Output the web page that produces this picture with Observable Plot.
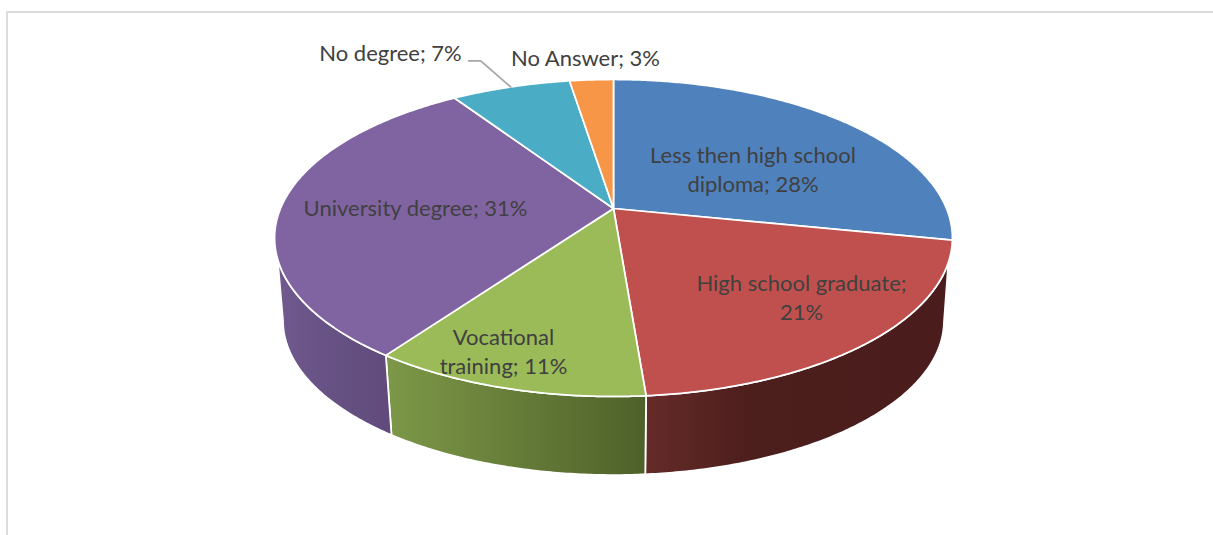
<!DOCTYPE html>
<html>
<head>
<meta charset="utf-8">
<script src="https://cdn.jsdelivr.net/npm/d3@7"></script>
<script src="https://cdn.jsdelivr.net/npm/@observablehq/plot@0.6"></script>
<style>
html,body{margin:0;padding:0;background:#fff;width:1213px;height:535px;overflow:hidden}
#frame{position:absolute;left:6px;top:11px;width:1207px;height:524px;box-sizing:border-box;border-top:2px solid #dcdcdc;border-left:2px solid #dcdcdc}
#chart{position:absolute;left:0;top:0}
svg{display:block}
</style>
</head>
<body>
<div id="frame"></div>
<div id="chart"></div>
<script>
// Data
const categories = ["Less then high school diploma","High school graduate","Vocational training","University degree","No degree","No Answer"];
const shares = [28.2,20.53,11.12,30.85,6.8,2.5];
const labels = ["Less then high school\ndiploma; 28%","High school graduate;\n21%","Vocational\ntraining; 11%","University degree; 31%","No degree; 7%","No Answer; 3%"];
const colors = ["#4f81bd","#c0504d","#9bbb59","#8064a2","#4bacc6","#f79646"];

// Perspective disc geometry (chart units = page px)
const top_ = {cx:613, cy:208, a:333, b:153};
const bottom_ = {cx:613, cy:291.5, a:324.7, b:149};
const k = -0.186;
const project = (g, deg) => {
  const t = deg*Math.PI/180, u = Math.sin(t), v = -Math.cos(t), d = 1+k*v;
  return {x:g.cx+g.a*u/d, y:g.cy+g.b*v/d};
};
const arc = (g, a0, a1) => {
  const n = Math.max(2, Math.ceil(Math.abs(a1-a0))*2), out = [];
  for (let i=0;i<=n;i++) out.push(project(g, a0+(a1-a0)*i/n));
  return out;
};

// Slice angles
const total = d3.sum(shares);
let acc = 0;
const slices = categories.map((category,i)=>{
  const a0 = acc/total*360; acc += shares[i]; const a1 = acc/total*360;
  return {category,a0,a1,mid:(a0+a1)/2};
});

// Top faces
const topPts = slices.flatMap(s=>{
  const c = {x:top_.cx,y:top_.cy};
  return [c,...arc(top_,s.a0,s.a1),c].map(p=>({...p,category:s.category}));
});

// Side walls: the rim is visible between these angles
const rimFrom = 109.3, rimTo = 251.8, silFrom = 100.7, silTo = 259.3;
const wall = (s)=>{
  const t0 = Math.max(s.a0,rimFrom), t1 = Math.min(s.a1,rimTo);
  const b0 = Math.max(s.a0,silFrom), b1 = Math.min(s.a1,silTo);
  const pts = [...arc(top_,t0,t1),...arc(bottom_,b1,b0)];
  pts.push(pts[0]);
  return pts;
};
const wallInfo = [
  {i:1,id:"gRed",stops:[["0%","#652b29"],["35%","#4c1e1c"],["100%","#4a1d1c"]]},
  {i:2,id:"gGreen",stops:[["0%","#7d9848"],["100%","#4e6129"]]},
  {i:3,id:"gPurple",stops:[["0%","#6f598d"],["100%","#5f4a7b"]]}
];
const defs = ()=>{
  const ns="http://www.w3.org/2000/svg";
  const d=document.createElementNS(ns,"defs");
  for(const w of wallInfo){
    const g=document.createElementNS(ns,"linearGradient");
    g.setAttribute("id",w.id);
    for(const [o,c] of w.stops){
      const st=document.createElementNS(ns,"stop");
      st.setAttribute("offset",o);st.setAttribute("stop-color",c);g.appendChild(st);
    }
    d.appendChild(g);
  }
  return d;
};

// Text placement
const labelAt = [[752.5,168],[801,296],[503,349.5],[415,206.5],[390,51.5],[585,56]];
const labelData = labels.map((text,i)=>({text,x:labelAt[i][0],y:labelAt[i][1]}));

// Leader from the No degree label to its slice rim
const rimPt = project(top_, slices[4].mid);
const leader = [{x:rimPt.x-42,y:rimPt.y-26},{x:rimPt.x-30,y:rimPt.y-26},rimPt];

const plot = Plot.plot({
  width:1213,height:535,margin:0,
  style:{background:"transparent"},
  x:{domain:[0,1213],range:[0,1213],axis:null},
  y:{domain:[0,535],range:[0,535],axis:null},
  color:{domain:categories,range:colors},
  marks:[
    defs,
    ...wallInfo.map(w=>Plot.line(wall(slices[w.i]),{x:"x",y:"y",fill:`url(#${w.id})`,stroke:"white",strokeWidth:1.75})),
    Plot.line(topPts,{x:"x",y:"y",z:"category",fill:"category",stroke:"white",strokeWidth:1.75,strokeLinejoin:"round"}),
    Plot.line(leader,{x:"x",y:"y",stroke:"#a6a6a6",strokeWidth:1.75}),
    Plot.text(labelData,{x:"x",y:"y",text:"text",fontFamily:"Lato",fontSize:22,fill:"#404040",lineHeight:1.31,lineAnchor:"middle"})
  ]
});
document.getElementById("chart").appendChild(plot);
</script>
</body>
</html>
